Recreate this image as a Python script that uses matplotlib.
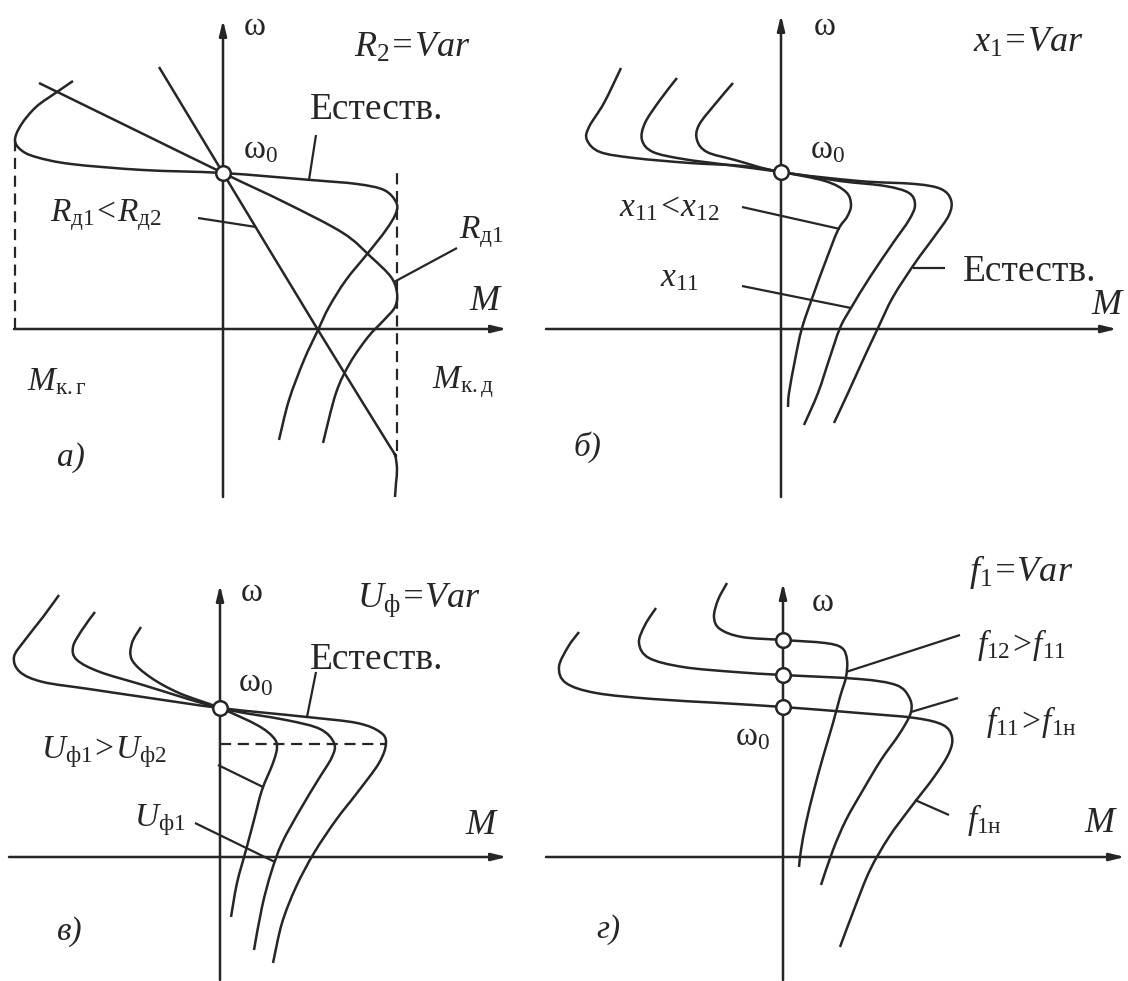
import matplotlib
matplotlib.use('Agg')
import matplotlib.pyplot as plt
from matplotlib.path import Path
from matplotlib.patches import PathPatch

plt.rcParams['font.family'] = ['Liberation Serif', 'DejaVu Serif']
plt.rcParams['mathtext.fontset'] = 'custom'
plt.rcParams['mathtext.rm'] = 'Liberation Serif'
plt.rcParams['mathtext.it'] = 'Liberation Serif:italic'

INK = '#262626'
FS = 24

# а) R2 = Var : natural curve, R_д1 curve, R_д2 curve (M, omega)
a_nat_M = [-150, -166, -187, -202, -208, -202, -187, -152, -80, 0, 88, 134, 161, 173,
           173, 163, 145, 123, 106, 95, 81, 66, 56]
a_nat_w = [248, 237, 222, 204, 189, 179, 172, 165, 159, 156, 149, 145, 139, 127,
           116, 99, 76, 49, 22, -1, -31, -71, -111]
a_rd1_M = [-184, -92, 0, 63, 120, 148, 168, 174, 172, 161, 145, 127, 113, 100]
a_rd1_w = [246, 201, 156, 126, 96, 72, 52, 36, 22, 9, -8, -34, -64, -114]
a_rd2_M = [-64, 0, 95, 166, 172, 174, 173, 172]
a_rd2_w = [262, 156, -1, -116, -126, -140, -154, -168]
a_w0 = 156
a_Mkg, a_Mkg_w = -208, 189
a_Mkd, a_Mkd_w = 174, 161
a_Mkd_low = -122

# б) x1 = Var
b_in_M = [-160, -177, -192, -194, -181, -147, -91, -38, 0, 44, 65, 70, 66, 57, 44, 33, 21, 14, 8, 7]
b_in_w = [261, 226, 202, 189, 177, 171, 166, 163, 157, 148, 137, 124, 112, 99, 66, 36, 1, -31, -64, -78]
b_mid_M = [-104, -121, -136, -139, -128, -98, -53, 0, 59, 104, 128, 134, 128, 112, 89, 70, 59, 48, 37, 23]
b_mid_w = [251, 229, 206, 189, 177, 170, 164, 157, 148, 143, 136, 124, 109, 86, 52, 21, 1, -31, -64, -96]
b_out_M = [-48, -65, -82, -84, -74, -46, 0, 78, 134, 160, 170, 168, 153, 134, 112, 97, 82, 67, 53]
b_out_w = [246, 226, 204, 189, 177, 169, 157, 148, 145, 140, 129, 114, 92, 66, 32, 1, -31, -64, -94]
b_w0 = 157

# в) U_ф = Var
c_out_M = [-161, -177, -195, -206, -200, -177, -131, -77, 0, 87, 137, 160, 166, 159, 137, 116, 94, 76, 62, 53]
c_out_w = [262, 240, 217, 200, 185, 175, 168, 160, 149, 140, 134, 125, 114, 94, 64, 37, 4, -30, -66, -106]
c_mid_M = [-125, -138, -147, -143, -120, -77, 0, 66, 100, 114, 112, 98, 80, 62, 51, 42, 34]
c_mid_w = [245, 227, 210, 197, 185, 172, 149, 137, 128, 114, 100, 77, 47, 14, -16, -50, -93]
c_in_M = [-79, -88, -88, -70, -41, 0, 37, 53, 57, 53, 42, 34, 26, 17, 11]
c_in_w = [230, 214, 197, 180, 164, 149, 132, 120, 110, 94, 67, 37, 7, -26, -60]
c_w0 = 149
c_wcrit, c_Mcrit = 113, 166

# г) f1 = Var
d_top_M = [-56, -65, -69, -63, -41, 0, 42, 59, 64, 63, 57, 50, 40, 31, 23, 18, 16]
d_top_w = [274, 257, 240, 228, 220, 217, 214, 209, 197, 180, 160, 134, 100, 67, 34, 7, -10]
d_mid_M = [-127, -138, -144, -134, -100, -48, 0, 76, 113, 126, 128, 117, 98, 80, 63, 50, 38]
d_mid_w = [249, 232, 214, 199, 190, 185, 182, 178, 172, 160, 145, 124, 97, 67, 37, 7, -28]
d_bot_M = [-204, -215, -224, -217, -187, -130, -63, 0, 76, 132, 160, 169, 166, 151, 128, 106, 87, 72, 57]
d_bot_w = [225, 210, 190, 174, 164, 158, 154, 150, 144, 139, 132, 120, 104, 80, 50, 20, -13, -50, -90]
d_w0 = [217, 182, 150]

W, H = 1128, 981
fig = plt.figure(figsize=(W / 100, H / 100), dpi=100)


def panel(x0, y0, x1, y1, ox, oy):
    # axes in pixel units with the origin at the crossing of M and omega
    ax = fig.add_axes([x0 / W, 1 - y1 / H, (x1 - x0) / W, (y1 - y0) / H])
    ax.set_xlim(x0 - ox, x1 - ox)
    ax.set_ylim(oy - y1, oy - y0)
    ax.axis('off')
    return ax


def curve(ax, xs, ys, lw=1.8):
    # smooth line through the points (Catmull-Rom as cubic Bezier)
    pts = list(zip(xs, ys))
    verts = [pts[0]]
    codes = [Path.MOVETO]
    n = len(pts)
    for i in range(n - 1):
        p0 = pts[max(i - 1, 0)]
        p1 = pts[i]
        p2 = pts[i + 1]
        p3 = pts[min(i + 2, n - 1)]
        c1 = (p1[0] + (p2[0] - p0[0]) / 6, p1[1] + (p2[1] - p0[1]) / 6)
        c2 = (p2[0] - (p3[0] - p1[0]) / 6, p2[1] - (p3[1] - p1[1]) / 6)
        verts += [c1, c2, p2]
        codes += [Path.CURVE4] * 3
    ax.add_patch(PathPatch(Path(verts, codes), fill=False, lw=lw, ec=INK,
                           capstyle='butt', joinstyle='round', clip_on=False))


def axes_cross(ax, m_lo, m_hi, w_lo, w_hi):
    arrow = dict(arrowstyle='-|>,head_length=0.9,head_width=0.22', lw=1.8,
                 color=INK, shrinkA=0, shrinkB=0)
    ax.annotate('', xy=(m_hi, 0), xytext=(m_lo, 0), arrowprops=arrow)
    ax.annotate('', xy=(0, w_hi), xytext=(0, w_lo), arrowprops=arrow)


def leader(ax, m, w):
    ax.plot(m, w, color=INK, lw=1.6, solid_capstyle='butt', clip_on=False)


def node(ax, w):
    ax.plot([0] * len(w), w, 'o', ms=10.5, mfc='white', mec=INK, mew=1.8,
            zorder=6, clip_on=False)


def label(ax, m, w, s, **kw):
    kw.setdefault('va', 'center')
    ax.text(m, w, s, fontsize=kw.pop('fs', FS), color=INK, **kw)


dash = dict(color=INK, lw=1.6, ls=(0, (5, 3)), clip_on=False)
NAT = 27   # size of the "Естеств." captions
VAR = 26   # size of the "...=Var" headings

# а)
ax = panel(0, 0, 540, 500, 223, 329)
axes_cross(ax, -209, 284, -168, 309)
curve(ax, a_nat_M, a_nat_w)
curve(ax, a_rd1_M, a_rd1_w)
curve(ax, a_rd2_M, a_rd2_w)
ax.plot([a_Mkg, a_Mkg], [0, a_Mkg_w], **dash)
ax.plot([a_Mkd, a_Mkd], [a_Mkd_low, a_Mkd_w], **dash)
node(ax, [a_w0])
leader(ax, [93, 86], [194, 149])
leader(ax, [-25, 33], [111, 102])
leader(ax, [234, 171], [81, 47])
label(ax, 32, 302, 'ω', ha='center')
label(ax, 131, 281, r'$R_2$=Var', style='italic', fs=VAR)
label(ax, 87, 219, 'Естеств.', fs=NAT)
label(ax, 20, 179, r'$\mathrm{\omega}_0$')
label(ax, -173, 114, r'$R_{\mathrm{д1}}$<$R_{\mathrm{д2}}$', style='italic')
label(ax, 236, 97, r'$R_{\mathrm{д1}}$')
label(ax, 261, 27, 'M', style='italic', ha='center', fs=26)
label(ax, -196, -53, r'$M_{\mathrm{к.г}}$')
label(ax, 209, -53, r'$M_{\mathrm{к.д}}$')
label(ax, -166, -129, 'а)', style='italic')

# б)
ax = panel(540, 0, 1128, 500, 781, 329)
axes_cross(ax, -235, 336, -168, 314)
curve(ax, b_in_M, b_in_w)
curve(ax, b_mid_M, b_mid_w)
curve(ax, b_out_M, b_out_w)
node(ax, [b_w0])
leader(ax, [-39, 59], [122, 100])
leader(ax, [-39, 70], [43, 21])
leader(ax, [164, 132], [61, 61])
label(ax, 44, 302, 'ω', ha='center')
label(ax, 192, 286, r'$x_1$=Var', style='italic', fs=VAR)
label(ax, 29, 179, r'$\mathrm{\omega}_0$')
label(ax, -162, 121, r'$x_{11}$<$x_{12}$', style='italic')
label(ax, -121, 51, r'$x_{11}$')
label(ax, 182, 57, 'Естеств.', fs=NAT)
label(ax, 325, 24, 'M', style='italic', ha='center', fs=26)
label(ax, -207, -118, 'б)', style='italic')

# в)
ax = panel(0, 500, 540, 981, 220, 857)
axes_cross(ax, -211, 287, -123, 272)
curve(ax, c_out_M, c_out_w)
curve(ax, c_mid_M, c_mid_w)
curve(ax, c_in_M, c_in_w)
ax.plot([0, c_Mcrit], [c_wcrit, c_wcrit], **dash)
node(ax, [c_w0])
leader(ax, [96, 87], [185, 140])
leader(ax, [-2, 43], [92, 70])
leader(ax, [-25, 55], [34, -5])
label(ax, 32, 264, 'ω', ha='center')
label(ax, 137, 257, r'$U_{\mathrm{ф}}$=Var', style='italic', fs=VAR)
label(ax, 90, 197, 'Естеств.', fs=NAT)
label(ax, 18, 174, r'$\mathrm{\omega}_0$')
label(ax, -179, 105, r'$U_{\mathrm{ф1}}$>$U_{\mathrm{ф2}}$', style='italic')
label(ax, -86, 37, r'$U_{\mathrm{ф1}}$')
label(ax, 260, 32, 'M', style='italic', ha='center', fs=26)
label(ax, -163, -75, 'в)', style='italic')

# г)
ax = panel(540, 500, 1128, 981, 783, 857)
axes_cross(ax, -237, 342, -123, 274)
curve(ax, d_top_M, d_top_w)
curve(ax, d_mid_M, d_mid_w)
curve(ax, d_bot_M, d_bot_w)
node(ax, d_w0)
leader(ax, [177, 63], [222, 185])
leader(ax, [175, 128], [159, 145])
leader(ax, [166, 132], [42, 57])
label(ax, 40, 254, 'ω', ha='center')
label(ax, 186, 285, r'$f_1$=Var', style='italic', fs=VAR)
label(ax, 194, 212, r'$f_{12}$>$f_{11}$', style='italic')
label(ax, 203, 135, r'$f_{11}$>$f_{1\mathrm{н}}$', style='italic')
label(ax, 184, 37, r'$f_{1\mathrm{н}}$')
label(ax, -48, 120, r'$\mathrm{\omega}_0$')
label(ax, 316, 34, 'M', style='italic', ha='center', fs=26)
label(ax, -187, -73, 'г)', style='italic')

fig.savefig('out.png', dpi=100, facecolor='white')
